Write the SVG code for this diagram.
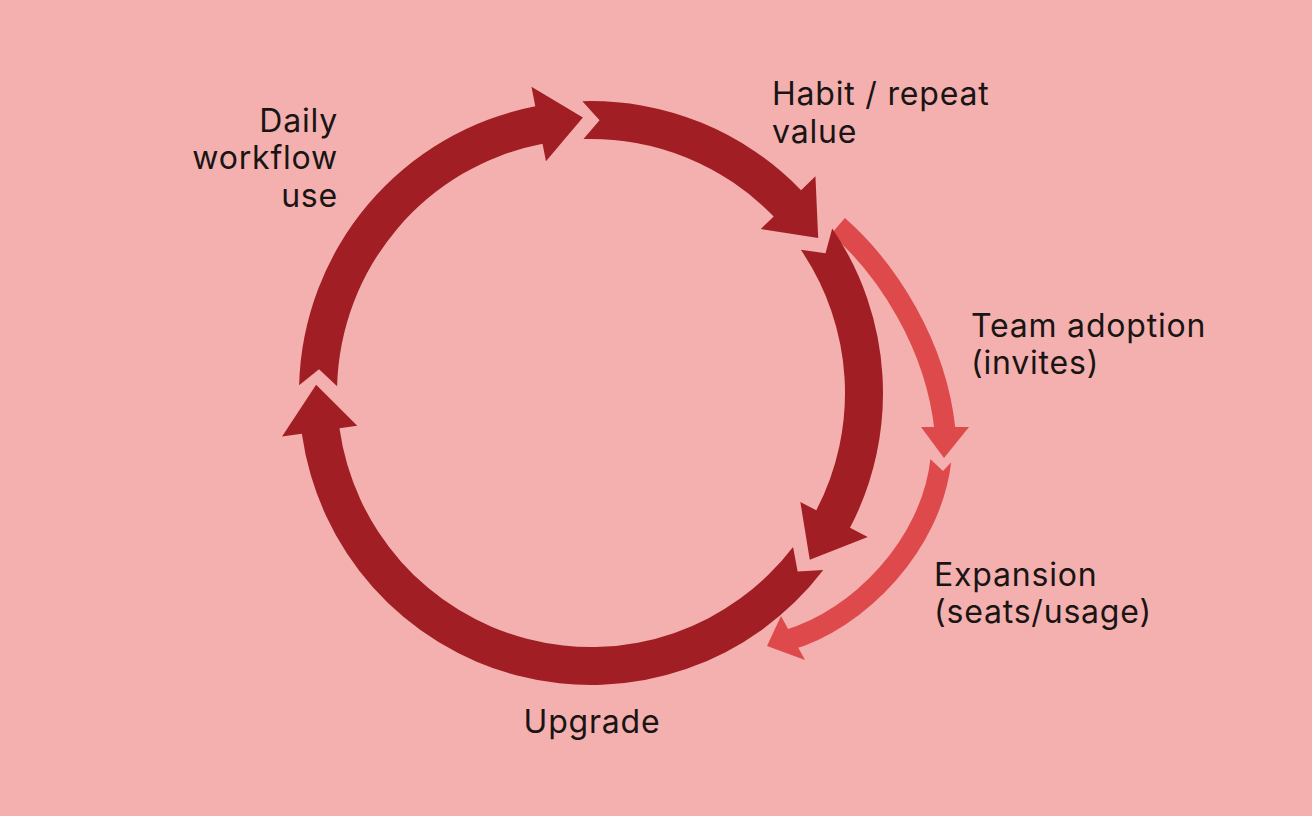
<svg xmlns="http://www.w3.org/2000/svg" width="1312" height="816" viewBox="0 0 1312 816">
<style>
.bg{fill:#f3b0af}
.dark{fill:#a11f24}
.light{fill:none;stroke:#de4a4b;stroke-width:21;stroke-linecap:butt}
.lighthead{fill:#de4a4b}
.lbl{font-family:Inter,"Liberation Sans",sans-serif;font-size:32px;letter-spacing:0.8px;fill:#1a1414}
</style>
<defs>
<mask id="notch6" maskUnits="userSpaceOnUse" x="0" y="0" width="1312" height="816">
<rect x="0" y="0" width="1312" height="816" fill="#fff"/>
<polygon points="926,455 943,471 958,455" fill="#000"/>
</mask>
</defs>
<rect class="bg" x="0" y="0" width="1312" height="816"/>
<g id="connectors">
<g id="team-adoption-arrow">
<path class="light" d="M 838,226 C 888,270 936,345 945,430"/>
<polygon class="lighthead" points="921,427 969,427 944,458"/>
</g>
<g id="expansion-arrow">
<path class="light" mask="url(#notch6)" d="M 941,459 C 932,545 858,620 788,640"/>
<polygon class="lighthead" points="781,616 805,660 767,646"/>
</g>
<path id="arrow-daily" class="dark" d="M 299.10,385.36 A 292 292 0 0 1 535.28,106.36 L 531.47,86.73 L 582.90,117.5 L 545.97,161.34 L 542.53,143.67 A 254 254 0 0 0 337.09,386.35 L 319.04,369.21 Z"/>
<path id="arrow-habit" class="dark" d="M 582.34,101.13 A 292 292 0 0 1 801.05,190.16 L 815.43,176.27 L 818.18,238.03 L 760.76,229.06 L 773.71,216.56 A 254 254 0 0 0 583.46,139.11 L 599.58,120.13 Z"/>
<path id="arrow-team" class="dark" d="M 832.22,228.45 A 292 292 0 0 1 850.01,527.83 L 867.75,537.07 L 809.75,559.65 L 800.33,501.97 L 816.30,510.28 A 254 254 0 0 0 800.83,249.86 L 825.50,253.21 Z"/>
<path id="arrow-upgrade" class="dark" d="M 823.28,569.95 A 292 292 0 0 1 301.84,433.64 L 282.04,436.42 L 316.12,384.84 L 357.30,425.84 L 339.47,428.35 A 254 254 0 0 0 793.05,546.92 L 797.66,571.38 Z"/>
</g>
<g id="node-daily">
<text class="lbl" text-anchor="end" x="338" y="132">Daily</text>
<text class="lbl" text-anchor="end" x="338" y="169">workflow</text>
<text class="lbl" text-anchor="end" x="338" y="207">use</text>
</g>
<g id="node-habit">
<text class="lbl" x="772" y="105">Habit / repeat</text>
<text class="lbl" x="772" y="143">value</text>
</g>
<g id="node-team">
<text class="lbl" x="971" y="337">Team adoption</text>
<text class="lbl" x="971" y="374">(invites)</text>
</g>
<g id="node-expansion">
<text class="lbl" x="934" y="586">Expansion</text>
<text class="lbl" x="934" y="623">(seats/usage)</text>
</g>
<g id="node-upgrade">
<text class="lbl" text-anchor="middle" x="592" y="733">Upgrade</text>
</g>
</svg>
